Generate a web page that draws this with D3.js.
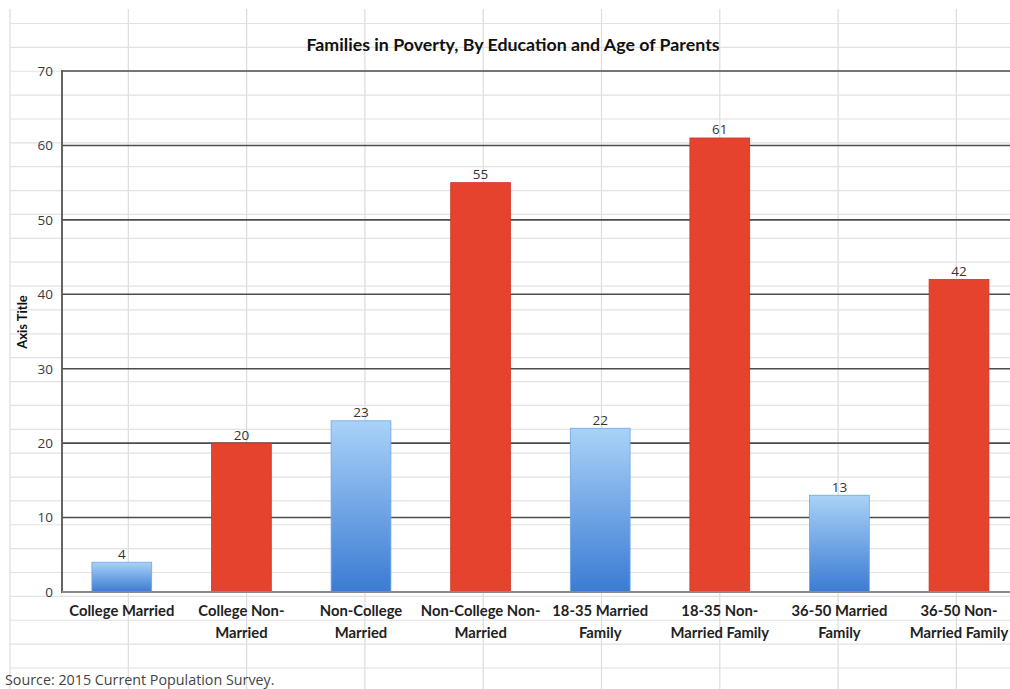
<!DOCTYPE html>
<html><head><meta charset="utf-8">
<script src="https://cdn.jsdelivr.net/npm/d3@7"></script>
<style>html,body{margin:0;padding:0;background:#fff;}svg{display:block;}</style>
</head><body>
<script>
const categories = ["College Married","College Non-\nMarried","Non-College\nMarried","Non-College Non-\nMarried","18-35 Married\nFamily","18-35 Non-\nMarried Family","36-50 Married\nFamily","36-50 Non-\nMarried Family"];
const values = [4,20,23,55,22,61,13,42];
const groups = ["Married","Non-Married","Married","Non-Married","Married","Non-Married","Married","Non-Married"];
const yTicks = [0,10,20,30,40,50,60,70];
const chartTitle = "Families in Poverty, By Education and Age of Parents";
const yTitle = "Axis Title";
const sourceNote = "Source: 2015 Current Population Survey.";

const W = 1010, H = 689;
const svg = d3.select("body").append("svg").attr("width", W).attr("height", H);

// spreadsheet background grid
const sheet = svg.append("g");
const colX = d3.range(0, 9).map(i => 10 + i * 118.3);
const rowY = d3.range(1, 29).map(i => 23.5 + (i - 1) * 23.87);
sheet.selectAll("line.c").data(colX).join("line")
  .attr("x1", d => d).attr("x2", d => d).attr("y1", 9).attr("y2", H)
  .attr("stroke", "#dcdcdc").attr("stroke-width", 1.2);
sheet.selectAll("line.r").data(rowY).join("line")
  .attr("x1", 10).attr("x2", W).attr("y1", d => d).attr("y2", d => d)
  .attr("stroke", "#e2e2e2").attr("stroke-width", 1.2);

// gradient
const defs = svg.append("defs");
const grad = defs.append("linearGradient").attr("id", "blueGrad").attr("x1", 0).attr("y1", 0).attr("x2", 0).attr("y2", 1);
grad.append("stop").attr("offset", "0%").attr("stop-color", "#a9d2f7");
grad.append("stop").attr("offset", "100%").attr("stop-color", "#3b7bd4");

const plotLeft = 62, plotTop = 71, plotBottom = 592;
const step = 119.6;
const x = d3.scaleBand().domain(categories).range([plotLeft, plotLeft + step * categories.length]).paddingInner(0.5).paddingOuter(0.25);
const y = d3.scaleLinear().domain([0, 70]).range([plotBottom, plotTop]);

// gridlines
svg.append("g").selectAll("line").data(yTicks.filter(t => t > 0)).join("line")
  .attr("x1", plotLeft).attr("x2", W).attr("y1", d => y(d)).attr("y2", d => y(d))
  .attr("stroke", "#4d4d4d").attr("stroke-width", 1.6);

// y axis labels
const yAxis = d3.axisLeft(y).tickValues(yTicks).tickSize(0).tickPadding(9);
const ya = svg.append("g").attr("transform", `translate(${plotLeft},0)`).call(yAxis);
ya.select(".domain").remove();
ya.selectAll("text").attr("font-family", "Open Sans, sans-serif").attr("font-size", 13.5).attr("fill", "#3a3a3a");

// bars
const color = d3.scaleOrdinal().domain(["Married","Non-Married"]).range(["url(#blueGrad)", "#e5432d"]);
svg.selectAll("rect.bar").data(values).join("rect")
  .attr("class", "bar")
  .attr("x", (d, i) => x(categories[i]))
  .attr("width", x.bandwidth())
  .attr("y", d => y(d))
  .attr("height", d => y(0) - y(d))
  .attr("fill", (d, i) => color(groups[i]))
  .attr("stroke", (d, i) => groups[i] === "Married" ? "#6fa6e6" : "#c9372a")
  .attr("stroke-width", 0.8);

// value labels
svg.selectAll("text.val").data(values).join("text")
  .attr("class", "val")
  .attr("x", (d, i) => x(categories[i]) + x.bandwidth() / 2)
  .attr("y", d => y(d) - 3.5)
  .attr("text-anchor", "middle")
  .attr("font-family", "Open Sans, sans-serif").attr("font-size", 13.5).attr("fill", "#333")
  .text(d => d);

// axis lines
svg.append("line").attr("x1", plotLeft).attr("x2", plotLeft).attr("y1", plotTop - 1).attr("y2", plotBottom + 1)
  .attr("stroke", "#555").attr("stroke-width", 1.8);
svg.append("line").attr("x1", plotLeft).attr("x2", W).attr("y1", plotBottom).attr("y2", plotBottom)
  .attr("stroke", "#8a8a8a").attr("stroke-width", 2);

// x category labels
const xl = svg.selectAll("text.cat").data(categories).join("text")
  .attr("class", "cat")
  .attr("text-anchor", "middle")
  .attr("font-family", "Lato, sans-serif").attr("font-weight", "bold").attr("font-size", 14.8).attr("fill", "#222");
xl.each(function(d) {
  const t = d3.select(this);
  d.split("\n").forEach((line, k) => {
    t.append("tspan").attr("x", x(d) + x.bandwidth() / 2).attr("y", 616 + k * 22).text(line);
  });
});

// title
svg.append("text").attr("x", 513).attr("y", 51).attr("text-anchor", "middle")
  .attr("font-family", "Lato, sans-serif").attr("font-weight", "bold").attr("font-size", 17.8).attr("fill", "#111")
  .text(chartTitle);

// y title
svg.append("text").attr("transform", "translate(27,322) rotate(-90)").attr("text-anchor", "middle")
  .attr("font-family", "Lato, sans-serif").attr("font-weight", "bold").attr("font-size", 13).attr("fill", "#111")
  .text(yTitle);

// source
svg.append("text").attr("x", 5).attr("y", 685)
  .attr("font-family", "Open Sans, sans-serif").attr("font-size", 14.3).attr("fill", "#444")
  .text(sourceNote);
</script>
</body></html>
